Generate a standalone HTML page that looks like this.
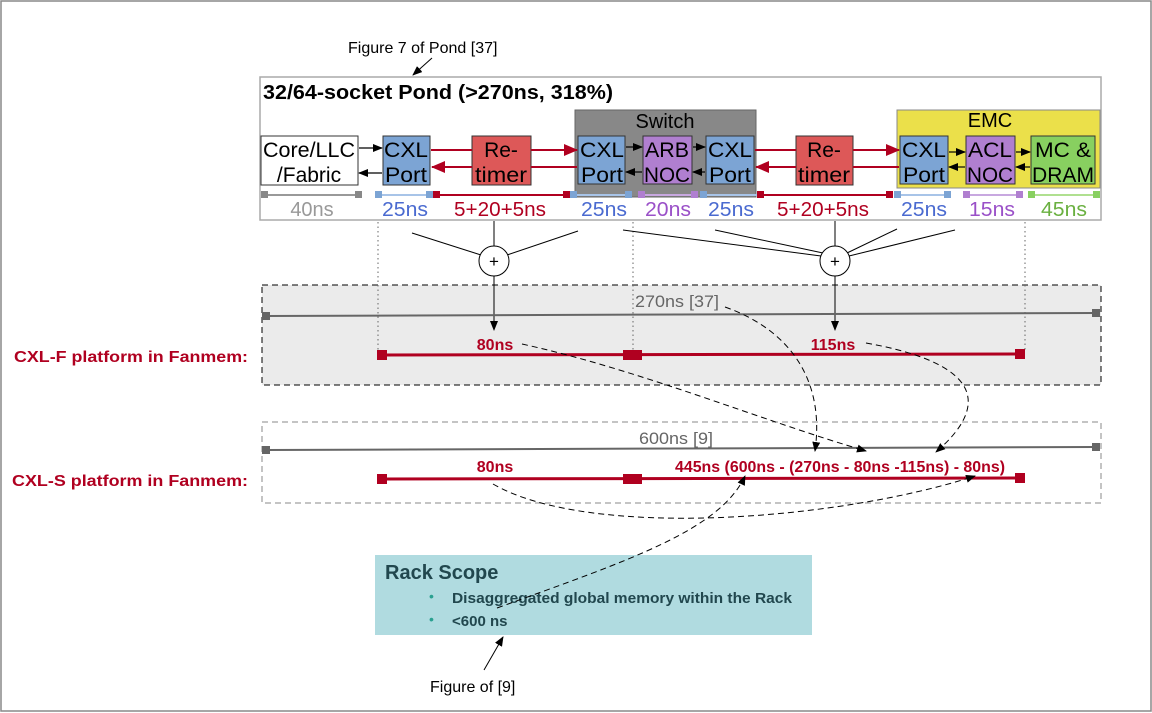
<!DOCTYPE html>
<html><head><meta charset="utf-8"><style>
html,body{margin:0;padding:0;background:#fff;}
svg{display:block;}
text{font-family:"Liberation Sans",sans-serif;}
</style></head><body>
<svg width="1152" height="713" viewBox="0 0 1152 713" xmlns="http://www.w3.org/2000/svg">
<defs>
<marker id="ab" markerWidth="10" markerHeight="8" refX="9" refY="4" orient="auto" markerUnits="userSpaceOnUse"><path d="M0,0 L10,4 L0,8 z" fill="#000"/></marker>
<marker id="ar" markerWidth="14" markerHeight="12" refX="13" refY="6" orient="auto" markerUnits="userSpaceOnUse"><path d="M0,0 L14,6 L0,12 z" fill="#b00020"/></marker>
</defs>
<rect x="1" y="1" width="1150" height="710" fill="#fff" stroke="#888" stroke-width="1.5"/>

<text x="348" y="53" font-size="16">Figure 7 of Pond [37]</text>
<line x1="432" y1="58" x2="413" y2="75" stroke="#000" marker-end="url(#ab)"/>

<rect x="260" y="77" width="841" height="143" fill="#fff" stroke="#aaa" stroke-width="1.5"/>
<text x="263" y="99" font-size="20" font-weight="bold" lengthAdjust="spacingAndGlyphs" textLength="350">32/64-socket Pond (&gt;270ns, 318%)</text>

<rect x="575" y="110" width="181" height="87" fill="#888" stroke="#666"/>
<text x="665" y="128" font-size="20" text-anchor="middle">Switch</text>
<rect x="897" y="110" width="203" height="78" fill="#ebe04a" stroke="#888"/>
<text x="990" y="127" font-size="20" text-anchor="middle">EMC</text>

<g font-size="21" text-anchor="middle">
<rect x="261" y="136" width="97" height="49" fill="#fff" stroke="#333"/>
<text x="309" y="157" lengthAdjust="spacingAndGlyphs" textLength="92">Core/LLC</text><text x="309" y="182">/Fabric</text>
<rect x="383" y="136" width="47" height="49" fill="#7ca4d4" stroke="#333"/>
<text x="406" y="157" lengthAdjust="spacingAndGlyphs" textLength="44">CXL</text><text x="406" y="182" lengthAdjust="spacingAndGlyphs" textLength="42">Port</text>
<rect x="472" y="136" width="59" height="49" fill="#dd5858" stroke="#333"/>
<text x="501" y="157">Re-</text><text x="501" y="182" lengthAdjust="spacingAndGlyphs" textLength="52">timer</text>
<rect x="578" y="136" width="47" height="48" fill="#7ca4d4" stroke="#333"/>
<text x="602" y="157" lengthAdjust="spacingAndGlyphs" textLength="44">CXL</text><text x="602" y="182" lengthAdjust="spacingAndGlyphs" textLength="42">Port</text>
<rect x="643" y="136" width="49" height="48" fill="#b07fd0" stroke="#333"/>
<text x="667" y="157" lengthAdjust="spacingAndGlyphs" textLength="44">ARB</text><text x="667" y="182" lengthAdjust="spacingAndGlyphs" textLength="46">NOC</text>
<rect x="706" y="136" width="48" height="48" fill="#7ca4d4" stroke="#333"/>
<text x="730" y="157" lengthAdjust="spacingAndGlyphs" textLength="44">CXL</text><text x="730" y="182" lengthAdjust="spacingAndGlyphs" textLength="42">Port</text>
<rect x="796" y="136" width="57" height="49" fill="#dd5858" stroke="#333"/>
<text x="824" y="157">Re-</text><text x="824" y="182" lengthAdjust="spacingAndGlyphs" textLength="52">timer</text>
<rect x="900" y="136" width="48" height="48" fill="#7ca4d4" stroke="#333"/>
<text x="924" y="157" lengthAdjust="spacingAndGlyphs" textLength="44">CXL</text><text x="924" y="182" lengthAdjust="spacingAndGlyphs" textLength="42">Port</text>
<rect x="966" y="136" width="49" height="48" fill="#b07fd0" stroke="#333"/>
<text x="990" y="157" lengthAdjust="spacingAndGlyphs" textLength="44">ACL</text><text x="990" y="182" lengthAdjust="spacingAndGlyphs" textLength="46">NOC</text>
<rect x="1031" y="136" width="64" height="48" fill="#88d060" stroke="#333"/>
<text x="1063" y="157" lengthAdjust="spacingAndGlyphs" textLength="56">MC &amp;</text><text x="1063" y="182" lengthAdjust="spacingAndGlyphs" textLength="62">DRAM</text>
</g>

<g stroke="#000" stroke-width="1.2">
<line x1="359" y1="148" x2="382" y2="148" marker-end="url(#ab)"/>
<line x1="382" y1="173" x2="359" y2="173" marker-end="url(#ab)"/>
<line x1="626" y1="147" x2="642" y2="147" marker-end="url(#ab)"/>
<line x1="642" y1="172" x2="626" y2="172" marker-end="url(#ab)"/>
<line x1="693" y1="147" x2="705" y2="147" marker-end="url(#ab)"/>
<line x1="705" y1="172" x2="693" y2="172" marker-end="url(#ab)"/>
<line x1="949" y1="152" x2="965" y2="152" marker-end="url(#ab)"/>
<line x1="965" y1="167" x2="949" y2="167" marker-end="url(#ab)"/>
<line x1="1016" y1="152" x2="1030" y2="152" marker-end="url(#ab)"/>
<line x1="1030" y1="167" x2="1016" y2="167" marker-end="url(#ab)"/>
</g>
<g stroke="#b00020" stroke-width="2">
<line x1="431" y1="150" x2="472" y2="150"/>
<line x1="531" y1="150" x2="577" y2="150" marker-end="url(#ar)"/>
<line x1="577" y1="167" x2="531" y2="167"/>
<line x1="472" y1="167" x2="432" y2="167" marker-end="url(#ar)"/>
<line x1="755" y1="150" x2="796" y2="150"/>
<line x1="853" y1="150" x2="899" y2="150" marker-end="url(#ar)"/>
<line x1="899" y1="167" x2="853" y2="167"/>
<line x1="796" y1="167" x2="756" y2="167" marker-end="url(#ar)"/>
</g>

<g stroke-width="2">
<line x1="263" y1="195" x2="359" y2="195" stroke="#999"/><rect x="261" y="191" width="7" height="7" fill="#888"/><rect x="355" y="191" width="7" height="7" fill="#888"/>
<line x1="378" y1="195" x2="431" y2="195" stroke="#a8c4e8"/><rect x="375" y="191" width="7" height="7" fill="#7ca4d4"/><rect x="426" y="191" width="7" height="7" fill="#7ca4d4"/>
<line x1="436" y1="195" x2="566" y2="195" stroke="#b00020"/><rect x="433" y="191" width="7" height="7" fill="#b00020"/><rect x="563" y="191" width="7" height="7" fill="#b00020"/>
<line x1="572" y1="195" x2="630" y2="195" stroke="#a8c4e8"/><rect x="570" y="191" width="7" height="7" fill="#7ca4d4"/><rect x="625" y="191" width="7" height="7" fill="#7ca4d4"/>
<line x1="641" y1="195" x2="694" y2="195" stroke="#c8a8e0"/><rect x="638" y="191" width="7" height="7" fill="#b07fd0"/><rect x="691" y="191" width="7" height="7" fill="#b07fd0"/>
<line x1="703" y1="195" x2="758" y2="195" stroke="#a8c4e8"/><rect x="700" y="191" width="7" height="7" fill="#7ca4d4"/>
<line x1="761" y1="195" x2="889" y2="195" stroke="#b00020"/><rect x="757" y="191" width="7" height="7" fill="#b00020"/><rect x="886" y="191" width="7" height="7" fill="#b00020"/>
<line x1="897" y1="195" x2="947" y2="195" stroke="#a8c4e8"/><rect x="894" y="191" width="7" height="7" fill="#7ca4d4"/><rect x="944" y="191" width="7" height="7" fill="#7ca4d4"/>
<line x1="966" y1="195" x2="1019" y2="195" stroke="#c8a8e0"/><rect x="963" y="191" width="7" height="7" fill="#b07fd0"/><rect x="1016" y="191" width="7" height="7" fill="#b07fd0"/>
<line x1="1031" y1="195" x2="1096" y2="195" stroke="#b0e090"/><rect x="1028" y="191" width="7" height="7" fill="#88d060"/><rect x="1093" y="191" width="7" height="7" fill="#88d060"/>
</g>
<g font-size="20" text-anchor="middle">
<text x="312" y="216" fill="#999">40ns</text>
<text x="405" y="216" fill="#4a6ad0" lengthAdjust="spacingAndGlyphs" textLength="46">25ns</text>
<text x="500" y="216" fill="#b00020" lengthAdjust="spacingAndGlyphs" textLength="92">5+20+5ns</text>
<text x="604" y="216" fill="#4a6ad0" lengthAdjust="spacingAndGlyphs" textLength="46">25ns</text>
<text x="668" y="216" fill="#9a50c8" lengthAdjust="spacingAndGlyphs" textLength="46">20ns</text>
<text x="731" y="216" fill="#4a6ad0" lengthAdjust="spacingAndGlyphs" textLength="46">25ns</text>
<text x="823" y="216" fill="#b00020" lengthAdjust="spacingAndGlyphs" textLength="92">5+20+5ns</text>
<text x="924" y="216" fill="#4a6ad0" lengthAdjust="spacingAndGlyphs" textLength="46">25ns</text>
<text x="992" y="216" fill="#9a50c8" lengthAdjust="spacingAndGlyphs" textLength="46">15ns</text>
<text x="1064" y="216" fill="#6ab040" lengthAdjust="spacingAndGlyphs" textLength="46">45ns</text>
</g>

<g stroke="#666" stroke-dasharray="1.5,3">
<line x1="378" y1="222" x2="378" y2="352"/>
<line x1="633" y1="222" x2="633" y2="352"/>
<line x1="1025" y1="222" x2="1025" y2="352"/>
</g>

<g stroke="#000" stroke-width="1">
<line x1="412" y1="233" x2="481" y2="255"/>
<line x1="494" y1="221" x2="494" y2="247"/>
<line x1="578" y1="231" x2="507" y2="255"/>
<line x1="623" y1="230" x2="821" y2="256"/>
<line x1="715" y1="230" x2="823" y2="253"/>
<line x1="835" y1="221" x2="835" y2="247"/>
<line x1="897" y1="229" x2="847" y2="253"/>
<line x1="955" y1="230" x2="849" y2="256"/>
</g>

<rect x="262" y="285" width="839" height="100" fill="#ebebeb" stroke="#000" stroke-dasharray="6,4"/>
<g stroke="#666" stroke-dasharray="1.5,3">
<line x1="378" y1="285" x2="378" y2="352"/><line x1="633" y1="285" x2="633" y2="352"/><line x1="1025" y1="285" x2="1025" y2="352"/>
</g>
<ellipse cx="494" cy="261" rx="15" ry="15" fill="#fff" stroke="#000"/>
<text x="494" y="267" font-size="17" text-anchor="middle">+</text>
<ellipse cx="835" cy="261" rx="15" ry="15" fill="#fff" stroke="#000"/>
<text x="835" y="267" font-size="17" text-anchor="middle">+</text>
<line x1="494" y1="276" x2="494" y2="330" stroke="#000" marker-end="url(#ab)"/>
<line x1="835" y1="276" x2="835" y2="330" stroke="#000" marker-end="url(#ab)"/>

<line x1="266" y1="316" x2="1096" y2="313" stroke="#666" stroke-width="2"/>
<rect x="262" y="312" width="8" height="8" fill="#666"/><rect x="1092" y="309" width="8" height="8" fill="#666"/>
<text x="677" y="307" font-size="17" fill="#666" text-anchor="middle" lengthAdjust="spacingAndGlyphs" textLength="84">270ns [37]</text>
<line x1="382" y1="355" x2="1020" y2="354" stroke="#b00020" stroke-width="3"/>
<rect x="377" y="350" width="10" height="10" fill="#b00020"/><rect x="623" y="350" width="10" height="10" fill="#b00020"/><rect x="632" y="350" width="10" height="10" fill="#b00020"/><rect x="1015" y="349" width="10" height="10" fill="#b00020"/>
<text x="495" y="350" font-size="16" font-weight="bold" fill="#b00020" text-anchor="middle">80ns</text>
<text x="833" y="350" font-size="16" font-weight="bold" fill="#b00020" text-anchor="middle">115ns</text>

<text x="248" y="362" font-size="16" font-weight="bold" fill="#b00020" text-anchor="end" lengthAdjust="spacingAndGlyphs" textLength="234">CXL-F platform in Fanmem:</text>
<text x="248" y="486" font-size="16" font-weight="bold" fill="#b00020" text-anchor="end" lengthAdjust="spacingAndGlyphs" textLength="236">CXL-S platform in Fanmem:</text>

<rect x="262" y="422" width="839" height="81" fill="none" stroke="#888" stroke-dasharray="6,4"/>
<line x1="266" y1="450" x2="1096" y2="447" stroke="#666" stroke-width="2"/>
<rect x="262" y="446" width="8" height="8" fill="#666"/><rect x="1092" y="443" width="8" height="8" fill="#666"/>
<text x="676" y="444" font-size="17" fill="#666" text-anchor="middle" lengthAdjust="spacingAndGlyphs" textLength="74">600ns [9]</text>
<line x1="382" y1="479" x2="1020" y2="478" stroke="#b00020" stroke-width="3"/>
<rect x="377" y="474" width="10" height="10" fill="#b00020"/><rect x="623" y="474" width="10" height="10" fill="#b00020"/><rect x="632" y="474" width="10" height="10" fill="#b00020"/><rect x="1015" y="473" width="10" height="10" fill="#b00020"/>
<text x="495" y="472" font-size="16" font-weight="bold" fill="#b00020" text-anchor="middle">80ns</text>
<text x="840" y="472" font-size="16" font-weight="bold" fill="#b00020" text-anchor="middle" lengthAdjust="spacingAndGlyphs" textLength="330">445ns (600ns - (270ns - 80ns -115ns) - 80ns)</text>

<rect x="375" y="555" width="437" height="80" fill="#b0dbe0"/>
<text x="385" y="579" font-size="20" font-weight="bold" fill="#21474e">Rack Scope</text>
<text x="429" y="601" font-size="14" fill="#2aa090">•</text>
<text x="452" y="603" font-size="15" font-weight="bold" fill="#21474e" lengthAdjust="spacingAndGlyphs" textLength="340">Disaggregated global memory within the Rack</text>
<text x="429" y="624" font-size="14" fill="#2aa090">•</text>
<text x="452" y="626" font-size="15" font-weight="bold" fill="#21474e">&lt;600 ns</text>

<g fill="none" stroke="#000" stroke-dasharray="6,4" stroke-width="1">
<path d="M725,307 C790,330 825,380 815,451" marker-end="url(#ab)"/>
<path d="M522,344 C640,370 760,420 866,451" marker-end="url(#ab)"/>
<path d="M866,343 C990,365 985,410 936,452" marker-end="url(#ab)"/>
<path d="M493,484 C590,540 840,520 975,476" marker-end="url(#ab)"/>
<path d="M497,608 C630,560 720,530 745,476" marker-end="url(#ab)"/>
</g>

<text x="430" y="692" font-size="16">Figure of [9]</text>
<line x1="484" y1="670" x2="503" y2="637" stroke="#000" marker-end="url(#ab)"/>
</svg>
</body></html>
